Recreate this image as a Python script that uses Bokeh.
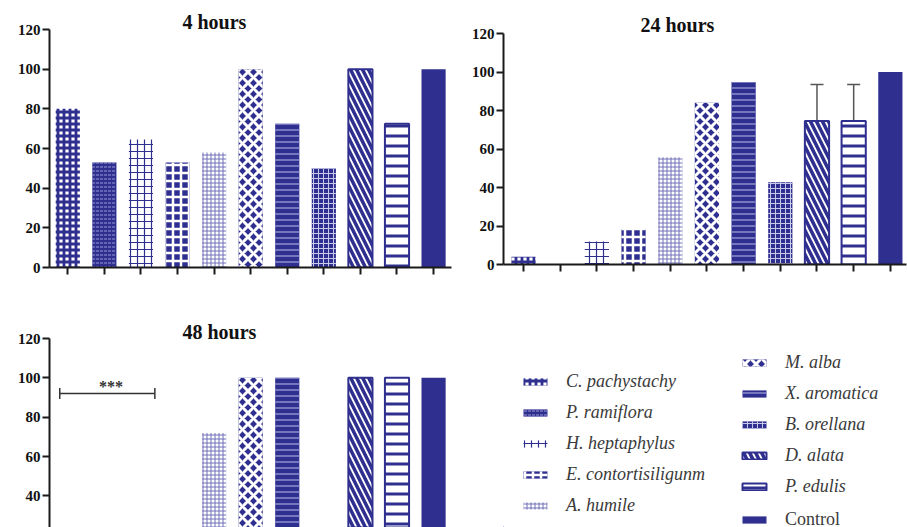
from bokeh.plotting import figure
from bokeh.models import (ColumnDataSource, Range1d, FixedTicker, Whisker, TeeHead,
                          Label, Legend, LegendItem)
from bokeh.layouts import column, row
from bokeh.embed import file_html
from bokeh.resources import INLINE

# ---------------- data ----------------
species = ["C. pachystachy", "P. ramiflora", "H. heptaphylus", "E. contortisiligunm",
           "A. humile", "M. alba", "X. aromatica", "B. orellana", "D. alata",
           "P. edulis", "Control"]
hours_4 = [80, 53, 64.5, 53, 58, 100, 72.5, 50, 100, 72.5, 100]
hours_24 = [4, 0, 12, 18.5, 55.7, 84, 94.8, 42.7, 74.5, 74.5, 100]
hours_24_err = [0, 0, 0, 0, 0, 0, 0, 0, 19, 19, 0]
hours_48 = [0, 0, 0, 0, 72, 100, 100, 0, 100, 100, 100]
titles = ["4 hours", "24 hours", "48 hours"]
y_ticks = [0, 20, 40, 60, 80, 100, 120]
signif_text = "***"

# ---------------- styles ----------------
NAVY = "#2f2f8f"
fills = ["white", NAVY, "white", NAVY, "white", NAVY, NAVY, NAVY, "white", "white", NAVY]
hatches = ["cross", "horizontal_dash", "cross", "cross", "cross", "diagonal_cross",
           "horizontal_line", "cross", "left_diagonal_line", "horizontal_line", "blank"]
hatch_colors = [NAVY, "#9a9ad6", NAVY, "white", "#7070b8", "white", "#8c8cd0",
                "#c8c8ea", NAVY, NAVY, NAVY]
hatch_scales = [6, 4, 7, 8, 4, 11, 6, 5, 12, 10, 6]
hatch_weights = [2.8, 1, 1.2, 2.5, 1, 3, 1.5, 1, 3.5, 3, 1]
line_alphas = [0, 0, 0, 0, 0, 0, 0, 0, 1, 1, 0]

SERIF = "Liberation Serif"
x_idx = list(range(1, len(species) + 1))


def make_source(values):
    return ColumnDataSource(dict(
        x=x_idx, top=values, name=species, fill=fills, hatch=hatches,
        hcolor=hatch_colors, hscale=hatch_scales, hweight=hatch_weights,
        lalpha=line_alphas))


def bars(p, src):
    return p.vbar(x="x", top="top", bottom=0, width=0.66, source=src,
                  fill_color="fill", hatch_pattern="hatch", hatch_color="hcolor",
                  hatch_scale="hscale", hatch_weight="hweight",
                  line_color=NAVY, line_width=2, line_alpha="lalpha")


def style(p, title_offset, title_standoff):
    p.title.text_font = SERIF
    p.title.text_font_size = "20px"
    p.title.text_font_style = "bold"
    p.title.text_color = "#111111"
    p.title.align = "left"
    p.title.offset = title_offset
    p.title.standoff = title_standoff
    p.outline_line_color = None
    p.xgrid.visible = False
    p.ygrid.visible = False
    for ax in p.yaxis:
        ax.ticker = FixedTicker(ticks=y_ticks)
        ax.minor_tick_line_color = None
        ax.major_tick_in = 0
        ax.major_tick_out = 7
        ax.major_tick_line_width = 2
        ax.axis_line_width = 2
        ax.axis_line_color = "#1a1a1a"
        ax.major_tick_line_color = "#1a1a1a"
        ax.major_label_text_font = SERIF
        ax.major_label_text_font_style = "bold"
        ax.major_label_text_font_size = "15px"
        ax.major_label_text_color = "#111111"
        ax.major_label_standoff = 2
    for ax in p.xaxis:
        ax.ticker = FixedTicker(ticks=x_idx)
        ax.minor_tick_line_color = None
        ax.major_tick_in = 0
        ax.major_tick_out = 7
        ax.major_tick_line_width = 2
        ax.axis_line_width = 2
        ax.axis_line_color = "#1a1a1a"
        ax.major_tick_line_color = "#1a1a1a"
        ax.major_label_text_font_size = "0px"


# ---------------- 4 hours ----------------
p1 = figure(width=452, height=308, title=titles[0], output_backend="svg",
            toolbar_location=None, x_range=Range1d(0.5, 11.49), y_range=Range1d(0, 120),
            min_border_left=49, min_border_right=1, min_border_top=29, min_border_bottom=41)
bars(p1, make_source(hours_4))
style(p1, 133, -7)

# ---------------- 24 hours ----------------
p2 = figure(width=455, height=308, title=titles[1], output_backend="svg",
            toolbar_location=None, x_range=Range1d(0.455, 11.44), y_range=Range1d(0, 120),
            min_border_left=51, min_border_right=1, min_border_top=33, min_border_bottom=44)
bars(p2, make_source(hours_24))
err_i = [i for i, e in enumerate(hours_24_err) if e > 0]
err_src = ColumnDataSource(dict(
    x=[x_idx[i] for i in err_i],
    lower=[hours_24[i] for i in err_i],
    upper=[hours_24[i] + hours_24_err[i] for i in err_i]))
p2.add_layout(Whisker(source=err_src, base="x", lower="lower", upper="upper",
                      dimension="height", line_color="#555555", line_width=1.5,
                      upper_head=TeeHead(size=13, line_color="#555555", line_width=1.5),
                      lower_head=None))
style(p2, 137, -5)

# ---------------- 48 hours ----------------
p3 = figure(width=452, height=219, title=titles[2], output_backend="svg",
            toolbar_location=None, x_range=Range1d(0.5, 11.49), y_range=Range1d(23.9, 120),
            x_axis_location=None,
            min_border_left=49, min_border_right=1, min_border_top=30, min_border_bottom=0)
bars(p3, make_source(hours_48))
p3.add_layout(Whisker(base=92.0, lower=0.78, upper=3.38, dimension="width",
                      line_color="#333333", line_width=1.5,
                      upper_head=TeeHead(size=11, line_color="#333333", line_width=1.5),
                      lower_head=TeeHead(size=11, line_color="#333333", line_width=1.5)))
p3.add_layout(Label(x=2.18, y=95.5, text=signif_text, text_align="center",
                    text_baseline="alphabetic", text_font=SERIF, text_font_style="bold",
                    text_font_size="16px", text_color="#333333"))
style(p3, 133, -8)

# ---------------- legend panel ----------------
pl = figure(width=455, height=219, output_backend="svg", toolbar_location=None,
            x_range=Range1d(100, 101), y_range=Range1d(100, 101),
            x_axis_location=None, y_axis_location=None,
            min_border_left=51, min_border_right=1, min_border_top=30, min_border_bottom=0)
pl.outline_line_color = None
pl.xgrid.visible = False
pl.ygrid.visible = False
rl = bars(pl, make_source(hours_4))


def make_legend(idxs, loc, spacing, italic=True):
    lg = Legend(items=[LegendItem(label=species[i], renderers=[rl], index=i) for i in idxs],
                location=loc, orientation="vertical", padding=0, margin=0,
                spacing=spacing, glyph_width=30, glyph_height=9, label_height=20,
                label_standoff=16, border_line_color=None, background_fill_alpha=0,
                label_text_font=SERIF, label_text_font_size="18px",
                label_text_font_style="italic" if italic else "normal",
                label_text_color="#3a3a3a")
    pl.add_layout(lg)


make_legend([0, 1, 2, 3, 4], (17, 11), 10)
make_legend([5, 6, 7, 8, 9], (236, 30), 10)
make_legend([10], (236, -3), 10, italic=False)

layout = row(column(p1, p3), column(p2, pl))
open("out.html", "w").write(file_html(layout, INLINE))
